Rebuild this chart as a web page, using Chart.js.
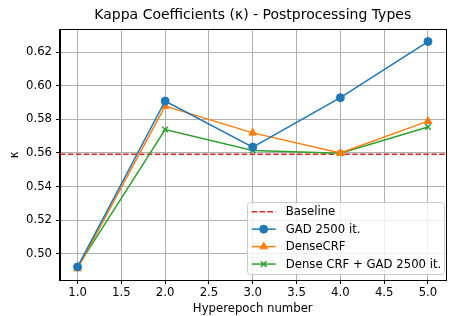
<!DOCTYPE html>
<html>
<head>
<meta charset="utf-8">
<script src="https://cdn.jsdelivr.net/npm/chart.js@4/dist/chart.umd.min.js"></script>
<style>
html,body{margin:0;padding:0;background:#fff;}
canvas{display:block;}
</style>
</head>
<body>
<canvas id="c" width="451" height="316"></canvas>
<script>
const hyperepochs = [1, 2, 3, 4, 5];
const gad2500 = [0.492, 0.591, 0.5635, 0.593, 0.6265];
const denseCrf = [0.491, 0.588, 0.572, 0.560, 0.579];
const denseCrfGad = [0.492, 0.574, 0.5615, 0.5598, 0.5755];
const baselineValue = 0.5592;
const xTickValues = [1.0, 1.5, 2.0, 2.5, 3.0, 3.5, 4.0, 4.5, 5.0];
const yTickValues = [0.50, 0.52, 0.54, 0.56, 0.58, 0.60, 0.62];
const labels = ['Baseline', 'GAD 2500 it.', 'DenseCRF', 'Dense CRF + GAD 2500 it.'];

const FONT = 'DejaVu Sans';
const FS = 11.7;
const toPts = arr => hyperepochs.map((x, i) => ({x: x, y: arr[i]}));

const baselinePlugin = {
  id: 'baseline',
  beforeDatasetsDraw(chart) {
    const {ctx, chartArea, scales} = chart;
    const y = scales.y.getPixelForValue(baselineValue);
    ctx.save();
    ctx.strokeStyle = '#d62728';
    ctx.lineWidth = 1.5;
    ctx.setLineDash([5.5, 2.4]);
    ctx.beginPath();
    ctx.moveTo(chartArea.left, y);
    ctx.lineTo(chartArea.right, y);
    ctx.stroke();
    ctx.restore();
  }
};

const framePlugin = {
  id: 'frame',
  afterDraw(chart) {
    const {ctx, chartArea} = chart;
    ctx.save();
    ctx.strokeStyle = '#000';
    ctx.lineWidth = 1;
    ctx.strokeRect(Math.round(chartArea.left) - 0.5, Math.round(chartArea.top) - 0.5,
      Math.round(chartArea.right - chartArea.left) + 1, Math.round(chartArea.bottom - chartArea.top) + 1);

    // legend
    const bx = 247.5, by = 202.5, bw = 197, bh = 72, r = 3;
    ctx.beginPath();
    ctx.moveTo(bx + r, by);
    ctx.lineTo(bx + bw - r, by);
    ctx.quadraticCurveTo(bx + bw, by, bx + bw, by + r);
    ctx.lineTo(bx + bw, by + bh - r);
    ctx.quadraticCurveTo(bx + bw, by + bh, bx + bw - r, by + bh);
    ctx.lineTo(bx + r, by + bh);
    ctx.quadraticCurveTo(bx, by + bh, bx, by + bh - r);
    ctx.lineTo(bx, by + r);
    ctx.quadraticCurveTo(bx, by, bx + r, by);
    ctx.closePath();
    ctx.fillStyle = 'rgba(255,255,255,0.8)';
    ctx.fill();
    ctx.strokeStyle = '#cccccc';
    ctx.stroke();

    const entries = [
      {label: labels[0], color: '#d62728', dash: [5.5, 2.4], style: null},
      ...chart.data.datasets.map(d => ({label: d.label, color: d.borderColor, dash: [], style: d.pointStyle, radius: d.pointRadius, bw: d.pointBorderWidth}))
    ];
    const startY = 211.7, step = 17.45;
    ctx.font = FS + 'px "' + FONT + '"';
    ctx.textBaseline = 'middle';
    entries.forEach((e, i) => {
      const y = startY + i * step;
      ctx.save();
      ctx.strokeStyle = e.color;
      ctx.lineWidth = 1.5;
      ctx.setLineDash(e.dash);
      ctx.beginPath();
      ctx.moveTo(251.7, y);
      ctx.lineTo(275.7, y);
      ctx.stroke();
      ctx.setLineDash([]);
      if (e.style) {
        ctx.fillStyle = e.color;
        ctx.strokeStyle = e.color;
        ctx.lineWidth = e.bw;
        Chart.helpers.drawPoint(ctx, {pointStyle: e.style, radius: e.radius, rotation: 0, borderWidth: e.bw}, 263.7, y);
      }
      ctx.restore();
      ctx.fillStyle = '#000';
      ctx.fillText(e.label, 285.7, y + 0.5);
    });
    ctx.restore();
  }
};

new Chart(document.getElementById('c'), {
  type: 'line',
  data: {
    datasets: [
      {label: labels[1], data: toPts(gad2500), borderColor: '#1f77b4', backgroundColor: '#1f77b4',
        pointStyle: 'circle', pointRadius: 4, pointBorderWidth: 1, borderWidth: 1.5},
      {label: labels[2], data: toPts(denseCrf), borderColor: '#ff7f0e', backgroundColor: '#ff7f0e',
        pointStyle: 'triangle', pointRadius: 4.5, pointBorderWidth: 1, borderWidth: 1.5},
      {label: labels[3], data: toPts(denseCrfGad), borderColor: '#2ca02c', backgroundColor: '#2ca02c',
        pointStyle: 'crossRot', pointRadius: 4, pointBorderWidth: 1.5, borderWidth: 1.5}
    ]
  },
  options: {
    responsive: false,
    animation: false,
    devicePixelRatio: 1,
    layout: {padding: {left: 0, right: 3, top: 0, bottom: 0}},
    plugins: {
      legend: {display: false},
      tooltip: {enabled: false},
      title: {
        display: true,
        fullSize: false,
        text: 'Kappa Coefficients (\u03ba) - Postprocessing Types',
        color: '#000',
        font: {family: FONT, size: 14, weight: 'normal'},
        padding: {top: 7, bottom: 6}
      }
    },
    scales: {
      x: {
        type: 'linear',
        min: 0.8, max: 5.2,
        afterBuildTicks: s => { s.ticks = xTickValues.map(v => ({value: v})); },
        afterFit: s => { s.height = 36; },
        ticks: {callback: v => Number(v).toFixed(1), color: '#000', font: {family: FONT, size: FS}, padding: 2, autoSkip: false, maxRotation: 0},
        grid: {color: '#b0b0b0', lineWidth: 1, tickLength: 4, tickColor: '#000'},
        border: {color: '#000', width: 1},
        title: {display: true, text: 'Hyperepoch number', color: '#000', font: {family: FONT, size: FS}, padding: {top: 0, bottom: 0}}
      },
      y: {
        type: 'linear',
        min: 0.4842, max: 0.6335,
        afterBuildTicks: s => { s.ticks = yTickValues.map(v => ({value: v})); },
        afterFit: s => { s.width = 60; },
        ticks: {callback: v => Number(v).toFixed(2), color: '#000', font: {family: FONT, size: FS}, padding: 4, autoSkip: false},
        grid: {color: '#b0b0b0', lineWidth: 1, tickLength: 4, tickColor: '#000'},
        border: {color: '#000', width: 1},
        title: {display: true, text: '\u03ba', color: '#000', font: {family: FONT, size: FS}, padding: {top: 8, bottom: 0}}
      }
    }
  },
  plugins: [baselinePlugin, framePlugin]
});
</script>
</body>
</html>
